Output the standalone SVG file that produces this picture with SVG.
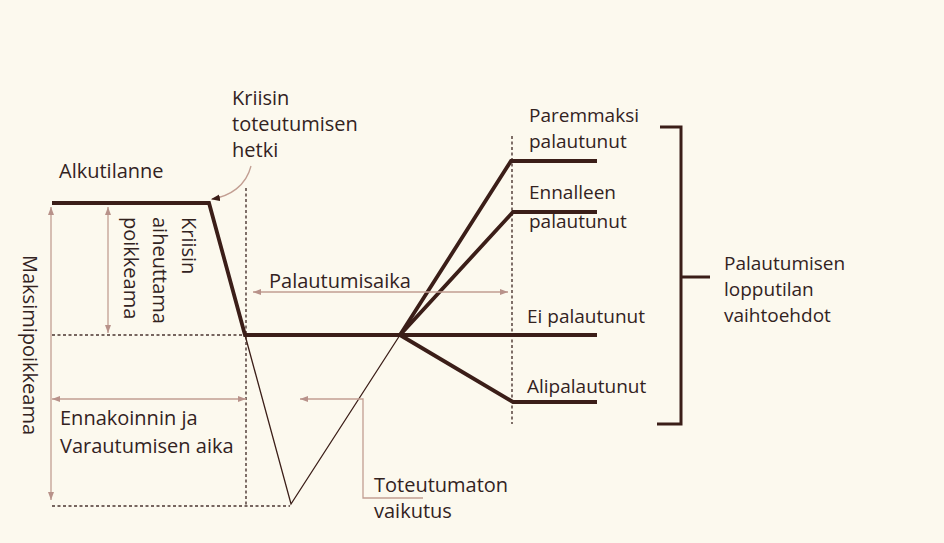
<svg xmlns="http://www.w3.org/2000/svg" width="944" height="543" viewBox="0 0 944 543">
<defs>
<style>
.t{font-family:"Open Sans","Noto Sans",sans-serif;font-size:20px;fill:#33231f}
.s{font-size:19px}
.thick{stroke:#3b1e18;stroke-width:3.8;fill:none;stroke-linejoin:miter}
.thin{stroke:#3b1e18;stroke-width:1.3;fill:none}
.dot{stroke:#4a3530;stroke-width:1.4;stroke-dasharray:3 2.5;fill:none}
.ann{stroke:#c29e92;stroke-width:1.3;fill:none}
.br{stroke:#3b1e18;stroke-width:3;fill:none}
</style>
<marker id="ah" viewBox="0 0 8 6" refX="8" refY="3" markerWidth="8" markerHeight="6" markerUnits="userSpaceOnUse" orient="auto-start-reverse">
<path d="M0,0 L8,3 L0,6 z" fill="#b8928a"/>
</marker>
<marker id="ahd" viewBox="0 0 8 6" refX="7" refY="3" markerWidth="9" markerHeight="7" markerUnits="userSpaceOnUse" orient="auto">
<path d="M0,0 L8,3 L0,6 z" fill="#3b1e18"/>
</marker>
</defs>
<rect width="944" height="543" fill="#fcf9ee"/>

<g id="connectors">
<path class="dot" d="M246,188 V506"/>
<path class="dot" d="M512,136 V424"/>
<path class="dot" d="M52,335 H245"/>
<path class="dot" d="M52,506 H290"/>
<path class="thin" d="M245,335 L291,504 L400,335"/>
<path class="thick" d="M52,203 H209 L245,335 H597"/>
<path class="thick" d="M400,335 L511,161 H597"/>
<path class="thick" d="M400,335 L513,212 H597"/>
<path class="thick" d="M400,335 L513,402 H597"/>
<path class="ann" d="M51,207 V500" marker-start="url(#ah)" marker-end="url(#ah)"/>
<path class="ann" d="M108,207 V333" marker-start="url(#ah)" marker-end="url(#ah)"/>
<path class="ann" d="M253,292 H508" marker-start="url(#ah)" marker-end="url(#ah)"/>
<path class="ann" d="M52,399 H246" marker-start="url(#ah)" marker-end="url(#ah)"/>
<path class="ann" d="M423,498 H363 V399 H300" marker-end="url(#ah)"/>
<path class="ann" d="M251,166 C246,186 230,196 212,199" marker-end="url(#ahd)"/>
<path class="br" d="M660,127 H681 V424 H657 M681,277 H710"/>
</g>

<g id="alkutilanne"><text class="t" x="59" y="178">Alkutilanne</text></g>
<g id="kriisin-hetki">
<text class="t" x="232" y="105">Kriisin</text>
<text class="t" x="232" y="131">toteutumisen</text>
<text class="t" x="232" y="157">hetki</text>
</g>
<g id="kriisin-poikkeama">
<text class="t" transform="translate(182,217) rotate(90)">Kriisin</text>
<text class="t" transform="translate(153,217) rotate(90)">aiheuttama</text>
<text class="t" transform="translate(124,217) rotate(90)">poikkeama</text>
</g>
<g id="maksimipoikkeama"><text class="t" transform="translate(23,255) rotate(90)">Maksimipoikkeama</text></g>
<g id="palautumisaika"><text class="t" x="269" y="288">Palautumisaika</text></g>
<g id="ennakoinnin">
<text class="t" x="60" y="425">Ennakoinnin ja</text>
<text class="t" x="60" y="453">Varautumisen aika</text>
</g>
<g id="toteutumaton">
<text class="t" x="374" y="492">Toteutumaton</text>
<text class="t" x="374" y="518">vaikutus</text>
</g>
<g id="paremmaksi">
<text class="t s" x="529" y="122">Paremmaksi</text>
<text class="t s" x="529" y="148">palautunut</text>
</g>
<g id="ennalleen">
<text class="t s" x="529" y="199">Ennalleen</text>
<text class="t s" x="529" y="228">palautunut</text>
</g>
<g id="ei-palautunut"><text class="t s" x="527" y="323">Ei palautunut</text></g>
<g id="alipalautunut"><text class="t s" x="527" y="393">Alipalautunut</text></g>
<g id="lopputila">
<text class="t s" x="724" y="270">Palautumisen</text>
<text class="t s" x="724" y="296">lopputilan</text>
<text class="t s" x="724" y="322">vaihtoehdot</text>
</g>
</svg>
